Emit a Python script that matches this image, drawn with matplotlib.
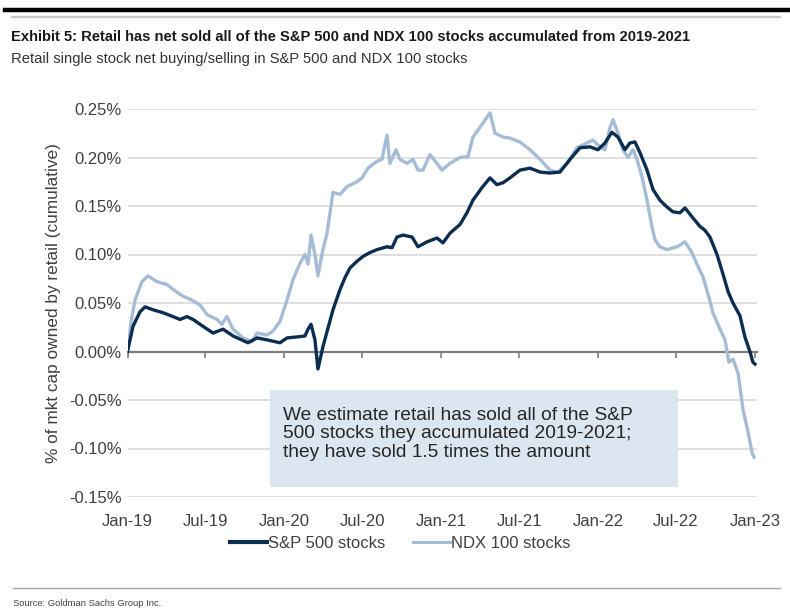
import numpy as np
import pandas as pd
import matplotlib
matplotlib.use("Agg")
import matplotlib.pyplot as plt
import matplotlib.dates as mdates
from matplotlib.patches import Rectangle
from matplotlib.lines import Line2D
from matplotlib import font_manager as fm

# ---------------- data (decimal years, % of mkt cap) ----------------
sp_t = [2019.000, 2019.035, 2019.080, 2019.112, 2019.163, 2019.226, 2019.290, 2019.335,
        2019.379, 2019.418, 2019.481, 2019.545, 2019.609, 2019.673, 2019.768, 2019.826,
        2019.889, 2019.972, 2020.017, 2020.080, 2020.131, 2020.151, 2020.170, 2020.195,
        2020.214, 2020.246, 2020.310, 2020.355, 2020.386, 2020.418, 2020.463, 2020.501,
        2020.546, 2020.590, 2020.654, 2020.686, 2020.718, 2020.756, 2020.814, 2020.852,
        2020.909, 2020.973, 2021.011, 2021.056, 2021.120, 2021.164, 2021.202, 2021.260,
        2021.311, 2021.355, 2021.394, 2021.438, 2021.502, 2021.566, 2021.630, 2021.693,
        2021.757, 2021.821, 2021.884, 2021.948, 2021.999, 2022.044, 2022.088, 2022.127,
        2022.171, 2022.203, 2022.235, 2022.267, 2022.312, 2022.350, 2022.394, 2022.439,
        2022.477, 2022.522, 2022.554, 2022.598, 2022.649, 2022.681, 2022.713, 2022.758,
        2022.796, 2022.828, 2022.860, 2022.904, 2022.936, 2022.968, 2022.987, 2023.000]
sp_v = [0.000, 0.026, 0.041, 0.046, 0.043, 0.040, 0.036, 0.033,
        0.036, 0.033, 0.026, 0.019, 0.023, 0.016, 0.009, 0.014,
        0.012, 0.009, 0.014, 0.015, 0.016, 0.023, 0.028, 0.012,
        -0.018, 0.005, 0.043, 0.064, 0.076, 0.086, 0.093, 0.098,
        0.102, 0.105, 0.108, 0.107, 0.118, 0.120, 0.118, 0.108,
        0.113, 0.117, 0.112, 0.122, 0.131, 0.143, 0.156, 0.169,
        0.179, 0.172, 0.174, 0.179, 0.187, 0.189, 0.185, 0.184,
        0.185, 0.198, 0.210, 0.211, 0.208, 0.215, 0.226, 0.221,
        0.208, 0.215, 0.216, 0.205, 0.187, 0.167, 0.156, 0.149,
        0.144, 0.143, 0.148, 0.139, 0.129, 0.125, 0.118, 0.100,
        0.080, 0.062, 0.050, 0.037, 0.015, 0.000, -0.011, -0.013]

ndx_t = [2019.000, 2019.022, 2019.048, 2019.092, 2019.131, 2019.188, 2019.252, 2019.316,
         2019.354, 2019.411, 2019.462, 2019.507, 2019.571, 2019.602, 2019.634, 2019.673,
         2019.736, 2019.794, 2019.826, 2019.889, 2019.927, 2019.972, 2020.017, 2020.055,
         2020.100, 2020.131, 2020.151, 2020.170, 2020.195, 2020.214, 2020.246, 2020.272,
         2020.310, 2020.355, 2020.399, 2020.463, 2020.495, 2020.533, 2020.590, 2020.622,
         2020.654, 2020.673, 2020.712, 2020.737, 2020.782, 2020.820, 2020.852, 2020.884,
         2020.928, 2020.973, 2021.005, 2021.056, 2021.120, 2021.171, 2021.202, 2021.260,
         2021.311, 2021.343, 2021.394, 2021.438, 2021.502, 2021.566, 2021.630, 2021.693,
         2021.744, 2021.802, 2021.865, 2021.929, 2021.967, 2022.012, 2022.044, 2022.076,
         2022.095, 2022.127, 2022.159, 2022.190, 2022.222, 2022.248, 2022.280, 2022.312,
         2022.343, 2022.363, 2022.394, 2022.439, 2022.503, 2022.554, 2022.598, 2022.630,
         2022.669, 2022.713, 2022.732, 2022.777, 2022.809, 2022.834, 2022.860, 2022.892,
         2022.924, 2022.956, 2022.981, 2022.994]
ndx_v = [0.000, 0.030, 0.053, 0.072, 0.078, 0.072, 0.069, 0.061,
         0.057, 0.053, 0.048, 0.038, 0.033, 0.028, 0.036, 0.023,
         0.014, 0.010, 0.019, 0.017, 0.021, 0.031, 0.053, 0.074,
         0.091, 0.100, 0.090, 0.120, 0.100, 0.078, 0.105, 0.122,
         0.164, 0.162, 0.170, 0.175, 0.179, 0.189, 0.196, 0.198,
         0.223, 0.194, 0.208, 0.198, 0.194, 0.198, 0.187, 0.187,
         0.203, 0.194, 0.187, 0.194, 0.200, 0.201, 0.221, 0.234,
         0.246, 0.225, 0.221, 0.220, 0.216, 0.208, 0.198, 0.187,
         0.185, 0.194, 0.210, 0.215, 0.218, 0.211, 0.208, 0.231,
         0.239, 0.225, 0.208, 0.200, 0.208, 0.198, 0.180, 0.156,
         0.129, 0.115, 0.108, 0.105, 0.108, 0.113, 0.102, 0.090,
         0.077, 0.052, 0.040, 0.023, 0.012, -0.011, -0.008, -0.022,
         -0.060, -0.083, -0.104, -0.109]

series_names = ["S&P 500 stocks", "NDX 100 stocks"]
y_ticks = [-0.15, -0.10, -0.05, 0.00, 0.05, 0.10, 0.15, 0.20, 0.25]
title = "Exhibit 5: Retail has net sold all of the S&P 500 and NDX 100 stocks accumulated from 2019-2021"
subtitle = "Retail single stock net buying/selling in S&P 500 and NDX 100 stocks"
y_label = "% of mkt cap owned by retail (cumulative)"
note = ("We estimate retail has sold all of the S&P\n"
        "500 stocks they accumulated 2019-2021;\n"
        "they have sold 1.5 times the amount")
source = "Source: Goldman Sachs Group Inc."


def to_dates(t):
    t = np.asarray(t, dtype=float)
    return pd.Timestamp("2019-01-01") + pd.to_timedelta((t - 2019.0) * 365.25, unit="D")


# ---------------- fonts ----------------
names = {f.name for f in fm.fontManager.ttflist}
body = "Liberation Sans" if "Liberation Sans" in names else "DejaVu Sans"
narrow = "Liberation Sans Narrow" if "Liberation Sans Narrow" in names else body
narrow_scale = 1.0 if narrow != body else 0.845
plt.rcParams["font.family"] = [body, "DejaVu Sans"]

DARK = "#0B2E50"
LIGHT = "#A5BCD6"
GRID = "#D9D9D9"
TXT = "#404040"

fig = plt.figure(figsize=(7.9, 6.09), dpi=100)
W, H = 790, 609
ax_l, ax_r, ax_t, ax_b = 127.5, 757.1, 109, 497
ax = fig.add_axes([ax_l / W, 1 - ax_b / H, (ax_r - ax_l) / W, (ax_b - ax_t) / H])

sp_d = to_dates(sp_t)
ndx_d = to_dates(ndx_t)
ax.plot(ndx_d, ndx_v, color=LIGHT, lw=2.4, zorder=3, solid_joinstyle="round")
ax.plot(sp_d, sp_v, color=DARK, lw=2.4, zorder=5, solid_joinstyle="round")

ax.set_ylim(-0.15, 0.25)
ax.set_xlim(pd.Timestamp("2019-01-01"), pd.Timestamp("2023-01-06"))
ax.set_yticks(y_ticks)
ax.yaxis.set_major_formatter(matplotlib.ticker.FuncFormatter(lambda v, p: f"{v:.2f}%"))
ax.xaxis.set_major_locator(mdates.MonthLocator(bymonth=[1, 7]))
ax.xaxis.set_major_formatter(mdates.DateFormatter("%b-%y"))
ax.grid(axis="y", color=GRID, lw=1.2, zorder=0)
ax.set_axisbelow(True)
for s in ax.spines.values():
    s.set_visible(False)
ax.tick_params(axis="both", length=0, labelsize=12, colors=TXT)
ax.tick_params(axis="x", pad=12)
ax.tick_params(axis="y", pad=4)
ax.set_ylabel(y_label, fontsize=12.4, color=TXT, labelpad=6)

# zero axis line with ticks
sec = ax.secondary_xaxis(0.375)
sec.xaxis.set_major_locator(mdates.MonthLocator(bymonth=[1, 7]))
sec.tick_params(axis="x", direction="out", length=4, width=1.2, color="#7F7F7F", labelbottom=False)
sec.spines["bottom"].set_color("#7F7F7F")
sec.spines["bottom"].set_linewidth(1.6)
sec.set_zorder(2)

# annotation box
bx0 = (270 - ax_l) / (ax_r - ax_l)
bx1 = (678 - ax_l) / (ax_r - ax_l)
by0 = (ax_b - 487) / (ax_b - ax_t)
by1 = (ax_b - 390) / (ax_b - ax_t)
ax.add_patch(Rectangle((bx0, by0), bx1 - bx0, by1 - by0, transform=ax.transAxes,
                       facecolor="#DCE6F1", edgecolor="none", zorder=2))
ax.text((283 - ax_l) / (ax_r - ax_l), (ax_b - 434) / (ax_b - ax_t), note,
        transform=ax.transAxes, ha="left", va="center", fontsize=13.8,
        color="#262626", linespacing=1.08, zorder=6)

# legend
h1 = Line2D([], [], color=DARK, lw=3)
h2 = Line2D([], [], color=LIGHT, lw=2.2)
fig.legend([h1, h2], series_names, loc="center", bbox_to_anchor=(400 / W, 1 - 543 / H),
           ncol=2, frameon=False, fontsize=12, handlelength=2.2, handletextpad=0.05,
           columnspacing=1.7, labelcolor=TXT)

# header / footer
fig.add_artist(Line2D([5 / W, 1.0], [1 - 10 / H] * 2, color="black", lw=3.2))
fig.add_artist(Line2D([12 / W, 780 / W], [1 - 16.5 / H] * 2, color="#C8C8C8", lw=1.6))
fig.text(11 / W, 1 - 37 / H, title, family=[narrow, "DejaVu Sans"], fontweight="bold",
         fontsize=12.6 * narrow_scale, ha="left", va="center", color="#1A1A1A")
fig.text(11 / W, 1 - 59 / H, subtitle, family=[narrow, "DejaVu Sans"],
         fontsize=12.6 * narrow_scale, ha="left", va="center", color="#333333")
fig.add_artist(Line2D([13 / W, 780 / W], [1 - 588 / H] * 2, color="#A6A6A6", lw=1.0))
fig.text(13 / W, 1 - 603 / H, source, family=[narrow, "DejaVu Sans"],
         fontsize=8.0 * narrow_scale, ha="left", va="center", color="#404040")

fig.savefig("out.png", dpi=100, facecolor="white")
